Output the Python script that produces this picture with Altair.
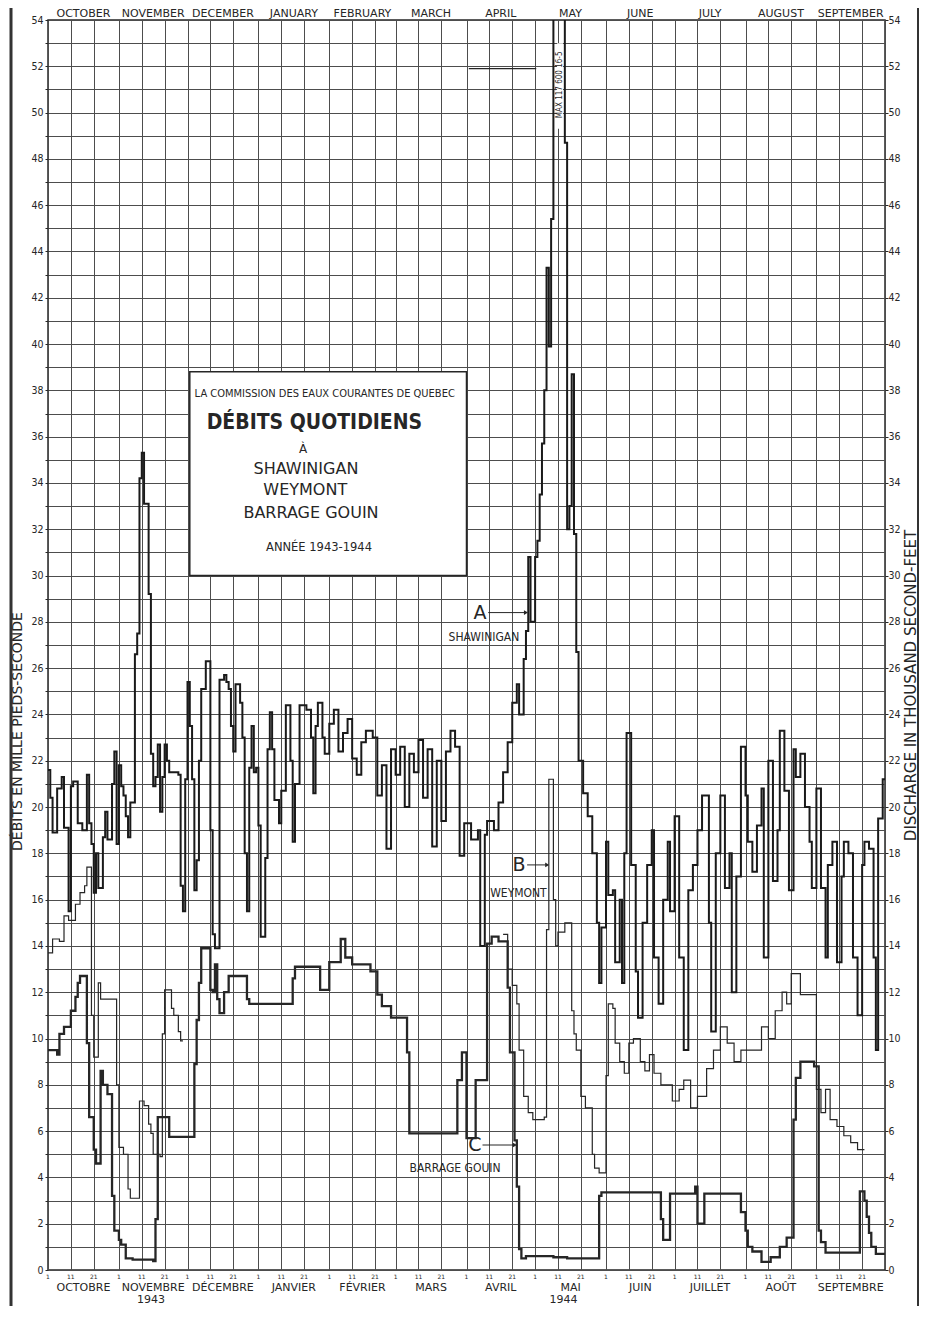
import altair as alt
import pandas as pd

INK = "#262626"
GRID = "#4d4d4d"
FONT = "DejaVu Sans"
FONT_C = "DejaVu Sans Condensed"

# ---------------- calendar (days counted from 1 Oct 1943) ----------------
MONTH_START = [0, 31, 61, 92, 123, 152, 183, 213, 244, 274, 305, 336, 366]
MONTHS_EN = ["OCTOBER", "NOVEMBER", "DECEMBER", "JANUARY", "FEBRUARY", "MARCH",
             "APRIL", "MAY", "JUNE", "JULY", "AUGUST", "SEPTEMBER"]
MONTHS_FR = ["OCTOBRE", "NOVEMBRE", "DÉCEMBRE", "JANVIER", "FÉVRIER", "MARS",
             "AVRIL", "MAI", "JUIN", "JUILLET", "AOÛT", "SEPTEMBRE"]
DAY_TICKS = ["1", "11", "21"]
Y_LABELS = list(range(0, 55, 2))

# ---------------- A : Shawinigan (thousand cfs, step changes) ----------------
A_DAY = [0, 1, 2, 4, 6, 7, 9, 10, 11, 13, 15, 17, 18, 19, 20, 21, 22, 24, 25, 26,
         28, 29, 30, 31, 32, 33, 34, 35, 36, 38, 39, 40, 41, 42, 44, 45, 46, 47, 48, 49,
         50, 51, 52, 53, 57, 58, 59, 60, 61, 62, 63, 64, 65, 66, 67, 69, 71, 72, 73, 75,
         77, 78, 79, 80, 81, 82, 84, 85, 86, 87, 88, 89, 90, 91, 92, 93, 95, 96, 97, 98,
         99, 101, 102, 104, 106, 107, 108, 110, 113, 115, 116, 117, 118, 120, 121, 123, 125, 127, 129, 131,
         133, 135, 137, 139, 142, 144, 146, 148, 150, 152, 154, 156, 158, 160, 162, 164, 166, 168, 170, 172,
         174, 176, 178, 180, 182, 185, 188, 189, 191, 192, 195, 197, 199, 201, 203, 205, 206, 208, 209, 210,
         211, 213, 214, 215, 216, 217, 218, 219, 220, 221, 226, 227, 228, 229, 230, 231, 232, 234, 236, 238,
         240, 241, 242, 244, 245, 247, 248, 250, 251, 252, 253, 255, 257, 258, 260, 262, 264, 265, 267, 269,
         271, 272, 274, 276, 278, 280, 282, 284, 286, 289, 290, 292, 294, 296, 298, 299, 301, 303, 305, 306,
         308, 310, 312, 313, 315, 317, 319, 320, 322, 324, 326, 327, 329, 331, 333, 334, 336, 338, 340, 341,
         343, 345, 347, 348, 350, 352, 354, 356, 357, 359, 361, 362, 363, 365, 366]
A_FLOW = [21.6, 20.4, 18.9, 20.8, 21.3, 19.1, 15.5, 20.9, 21.1, 19.3, 19.0, 21.4, 19.3, 18.4, 16.3, 18.0, 16.5, 18.7, 19.8, 18.6,
          21.0, 22.4, 18.4, 21.8, 20.9, 20.5, 19.6, 18.7, 20.2, 26.6, 27.5, 34.2, 35.3, 33.1, 29.2, 22.3, 20.9, 21.3, 22.7, 19.8,
          21.3, 22.7, 22.0, 21.5, 21.4, 16.6, 15.5, 21.2, 25.4, 23.5, 21.2, 16.4, 17.7, 22.0, 25.1, 26.3, 19.0, 14.5, 13.9, 25.5,
          25.7, 25.4, 25.1, 23.5, 22.4, 25.3, 24.5, 23.0, 18.0, 15.5, 21.7, 23.5, 21.5, 21.7, 19.2, 14.4, 17.8, 22.5, 24.1, 22.5,
          20.3, 19.3, 20.7, 24.4, 22.0, 18.5, 21.0, 24.4, 24.2, 23.0, 20.6, 23.5, 24.5, 23.0, 22.3, 23.6, 24.2, 22.4, 23.2, 23.8,
          22.1, 21.4, 22.8, 23.3, 23.0, 20.5, 21.8, 18.2, 22.5, 21.4, 22.6, 20.0, 22.3, 21.5, 22.9, 20.4, 22.5, 18.3, 22.0, 19.4,
          22.4, 23.3, 22.6, 17.9, 19.3, 18.6, 19.0, 14.0, 18.8, 19.4, 19.0, 20.2, 21.5, 22.8, 24.5, 25.3, 24.0, 26.4, 27.6, 30.8,
          28.0, 30.8, 31.5, 33.5, 35.7, 38.0, 43.3, 39.9, 45.4, 117.6, 48.7, 32.0, 33.0, 38.7, 31.8, 26.7, 22.0, 20.6, 19.6, 18.0,
          15.0, 12.4, 14.8, 18.5, 16.2, 16.4, 13.3, 16.0, 12.4, 18.0, 23.2, 17.5, 12.9, 10.9, 15.0, 17.5, 19.0, 13.5, 11.5, 16.0,
          18.5, 15.5, 19.6, 13.5, 9.5, 16.4, 17.5, 19.0, 20.5, 15.0, 10.3, 18.0, 20.5, 16.5, 18.0, 12.0, 17.0, 22.6, 20.5, 18.5,
          17.2, 19.2, 20.8, 13.5, 22.0, 16.8, 19.0, 23.3, 20.7, 16.4, 22.5, 21.3, 22.3, 20.0, 18.5, 16.5, 20.8, 16.5, 13.5, 17.5,
          18.5, 13.3, 17.0, 18.5, 18.0, 13.5, 11.0, 17.5, 18.5, 18.2, 13.5, 9.5, 19.5, 21.2, 21.2]

# ---------------- B : Weymont (two recorded stretches) ----------------
B_DAY = [0, 2, 5, 7, 9, 12, 14, 16, 17, 19, 20, 22, 23, 30, 31, 33, 35, 36, 40, 42,
         44, 45, 46, 49, 50, 51, 54, 55, 57, 58, 59,
         199, 201, 203, 205, 206, 208, 210, 212, 217, 218, 219, 221, 222, 223, 226, 229, 230, 231, 233,
         235, 238, 239, 241, 244, 245, 247, 248, 250, 252, 254, 256, 259, 261, 263, 265, 268, 273, 276, 278,
         281, 284, 288, 291, 294, 297, 300, 303, 312, 315, 318, 321, 323, 325, 329, 335, 336, 338, 340, 342,
         345, 348, 351, 354, 357]
B_FLOW = [13.7, 14.3, 14.2, 15.3, 15.1, 15.8, 16.3, 16.6, 17.4, 11.0, 9.2, 12.4, 11.7, 8.0, 5.3, 5.0, 3.5, 3.1, 7.3, 7.1,
          6.3, 5.9, 5.0, 4.9, 10.2, 12.1, 11.3, 11.0, 10.3, 9.9, 9.9,
          14.5, 13.0, 12.3, 11.5, 9.5, 7.5, 6.8, 6.5, 6.6, 14.7, 21.2, 16.0, 14.0, 14.6, 15.0, 11.2, 10.2, 9.5, 7.5,
          7.0, 5.0, 4.4, 4.2, 8.4, 11.5, 11.3, 9.8, 9.0, 8.5, 9.8, 10.0, 9.0, 8.6, 9.3, 8.5, 8.0, 7.3, 7.8, 8.2,
          7.0, 7.5, 8.7, 9.5, 10.5, 9.8, 9.0, 9.5, 10.5, 10.0, 11.2, 12.0, 11.5, 12.8, 11.9, 11.9, 7.8, 6.8, 7.8, 6.5,
          6.2, 5.8, 5.5, 5.2, 5.2]
B_SEG = [1] * 31 + [2] * 64

# ---------------- C : Barrage Gouin ----------------
C_DAY = [0, 4, 5, 7, 10, 12, 13, 14, 17, 18, 20, 21, 23, 24, 26, 28, 29, 31, 32, 34,
         37, 46, 47, 48, 53, 64, 65, 66, 67, 71, 72, 73, 74, 75, 77, 79, 87, 88, 107, 108,
         119, 123, 128, 130, 133, 141, 144, 146, 150, 157, 158, 179, 181, 183, 187, 192, 194, 197, 201, 202,
         204, 205, 206, 207, 209, 221, 227, 241, 242, 268, 269, 272, 283, 284, 287, 303, 305, 306, 308, 312,
         316, 320, 323, 326, 327, 329, 335, 337, 338, 340, 355, 357, 358, 359, 360, 362, 366]
C_FLOW = [9.5, 9.3, 10.2, 10.5, 11.2, 11.8, 12.4, 12.7, 9.8, 6.6, 5.2, 4.6, 8.6, 8.0, 7.6, 3.2, 1.7, 1.3, 1.1, 0.5,
          0.45, 0.38, 2.2, 6.6, 5.75, 8.9, 10.8, 12.4, 13.9, 12.1, 12.0, 13.2, 11.7, 11.1, 12.0, 12.7, 11.7, 11.5, 12.6, 13.1,
          12.1, 13.3, 14.3, 13.5, 13.2, 12.9, 11.9, 11.4, 10.9, 9.4, 5.9, 8.2, 9.4, 5.7, 8.2, 14.1, 14.4, 14.2, 12.2, 9.4,
          5.6, 3.6, 0.9, 0.5, 0.6, 0.55, 0.5, 3.2, 3.35, 2.2, 1.3, 3.3, 3.6, 2.0, 3.3, 2.5, 1.7, 1.0, 0.8, 0.35,
          0.55, 1.0, 1.4, 6.5, 8.3, 9.0, 8.8, 1.7, 1.2, 0.75, 3.4, 3.0, 2.3, 1.6, 1.0, 0.7, 0.7]

# ---------------- tables ----------------
dfA = pd.DataFrame({"day": A_DAY, "flow": A_FLOW})
dfB = pd.DataFrame({"seg": B_SEG, "day": B_DAY, "flow": B_FLOW})
dfC = pd.DataFrame({"day": C_DAY, "flow": C_FLOW})

grid_days = [s + k for s in MONTH_START[:-1] for k in (0, 10, 20)] + [MONTH_START[-1]]
ticks_df = pd.DataFrame({"day": grid_days[:-1], "lab": DAY_TICKS * 12})
months_df = pd.DataFrame({
    "day": [(a + b) / 2 for a, b in zip(MONTH_START[:-1], MONTH_START[1:])],
    "en": MONTHS_EN, "fr": MONTHS_FR})

W, H = 837, 1250
PAD_L, PAD_T, PAD_R, PAD_B = 40, 12, 34, 36
xs = alt.Scale(domain=[0, 366], nice=False, zero=False)
ys = alt.Scale(domain=[0, 54], nice=False, zero=False)


def X(axis=None, field="day:Q"):
    return alt.X(field, scale=xs, axis=axis)


def Y(axis=None, field="flow:Q"):
    return alt.Y(field, scale=ys, axis=axis)


x_axis = alt.Axis(values=grid_days, grid=True, gridColor=GRID, gridWidth=1, gridOpacity=1,
                  labels=False, ticks=False, domain=False, title=None)
left_axis = alt.Axis(values=list(range(0, 55)), grid=True, gridColor=GRID, gridWidth=1, gridOpacity=1,
                     domain=False, ticks=True, tickSize=3, tickColor=INK,
                     labelExpr="datum.value % 2 === 0 ? datum.label : ''",
                     labelFont=FONT_C, labelFontSize=10.5, labelColor=INK, labelPadding=2,
                     title="DÉBITS EN MILLE PIEDS-SECONDE", titleFont=FONT, titleFontSize=14,
                     titleFontWeight="normal", titleColor=INK, titleAngle=270,
                     titleX=-31, titleY=711, titleAlign="center", titleBaseline="middle")
right_axis = alt.Axis(orient="right", values=Y_LABELS, grid=False, domain=False,
                      ticks=True, tickSize=3, tickColor=INK,
                      labelFont=FONT_C, labelFontSize=10.5, labelColor=INK, labelPadding=0,
                      title="DISCHARGE IN THOUSAND SECOND-FEET", titleFont=FONT, titleFontSize=15,
                      titleFontWeight="normal", titleColor=INK, titleAngle=270,
                      titleX=25, titleY=665, titleAlign="center", titleBaseline="middle")

one = pd.DataFrame({"k": [0]})

# title box
box = alt.Chart(pd.DataFrame({"day": [62], "day2": [183], "flow": [30], "flow2": [38.8]})).mark_rect(
    fill="white", stroke=INK, strokeWidth=1.5).encode(
    x=X(), x2="day2:Q", y=Y(), y2="flow2:Q")


def label(text, day, flow, size, font=FONT, weight="normal", angle=0, align="center"):
    return alt.Chart(pd.DataFrame({"t": [text], "day": [day], "flow": [flow]})).mark_text(
        font=font, fontSize=size, fontWeight=weight, color=INK, angle=angle,
        align=align, baseline="middle").encode(x=X(), y=Y(), text="t:N")


texts = [
    label("LA COMMISSION DES EAUX COURANTES DE QUEBEC", 121, 37.85, 11, FONT_C),
    label("DÉBITS QUOTIDIENS", 116.5, 36.6, 21, FONT_C, "bold"),
    label("À", 111.5, 35.45, 12),
    label("SHAWINIGAN", 112.8, 34.6, 16),
    label("WEYMONT", 112.5, 33.7, 16),
    label("BARRAGE GOUIN", 115, 32.7, 16),
    label("ANNÉE 1943-1944", 118.5, 31.2, 11.5),
    label("A", 188.9, 28.4, 19),
    label("SHAWINIGAN", 190.6, 27.35, 12, FONT_C),
    label("B", 206, 17.5, 19),
    label("WEYMONT", 205.7, 16.3, 12, FONT_C),
    label("C", 186.7, 5.4, 19),
    label("BARRAGE GOUIN", 178, 4.4, 12, FONT_C),
]

# arrows of annotations
arrows_df = pd.DataFrame({"day": [192.5, 209.5, 190.0], "day2": [209.0, 218.3, 204.2],
                          "flow": [28.4, 17.5, 5.4]})
arrow_lines = alt.Chart(arrows_df).mark_rule(color=INK, strokeWidth=1).encode(
    x=X(), x2="day2:Q", y=Y())
arrow_heads = alt.Chart(arrows_df).mark_point(shape="triangle-right", filled=True, color=INK,
                                              size=22, opacity=1).encode(x=X(field="day2:Q"), y=Y())

# max note
max_rect = alt.Chart(pd.DataFrame({"day": [222.6], "day2": [225.2], "flow": [49.3], "flow2": [53.0]})).mark_rect(
    fill="white").encode(x=X(), x2="day2:Q", y=Y(), y2="flow2:Q")
max_text = label("MAX  117 600  16-5", 223.9, 51.2, 8, FONT_C, angle=270)
note_rule = alt.Chart(pd.DataFrame({"day": [184], "day2": [213.5], "flow": [51.9]})).mark_rule(
    color=INK, strokeWidth=1.2).encode(x=X(), x2="day2:Q", y=Y())

# series
lineC = alt.Chart(dfC).mark_line(interpolate="step-after", color=INK, strokeWidth=2.3, clip=True).encode(
    x=X(), y=Y())
lineB = alt.Chart(dfB).mark_line(interpolate="step-after", color=INK, strokeWidth=1.2, clip=True).encode(
    x=X(), y=Y(right_axis), detail="seg:N")
lineA = alt.Chart(dfA).mark_line(interpolate="step-after", color="#1a1a1a", strokeWidth=2.0, clip=True).encode(
    x=X(x_axis), y=Y(left_axis))

# calendar labels
top_months = alt.Chart(months_df).mark_text(font=FONT, fontSize=11, color=INK, baseline="middle").encode(
    x=X(), y=alt.value(-6), text="en:N")
bottom_months = alt.Chart(months_df).mark_text(font=FONT, fontSize=11, color=INK, baseline="middle").encode(
    x=X(), y=alt.value(H + 18), text="fr:N")
years = alt.Chart(pd.DataFrame({"day": [45, 225.4], "t": ["1943", "1944"]})).mark_text(
    font=FONT, fontSize=11, color=INK, baseline="bottom").encode(x=X(), y=alt.value(H + 35), text="t:N")
day_ticks = alt.Chart(ticks_df).mark_text(font=FONT, fontSize=6, color=INK, baseline="middle").encode(
    x=X(), y=alt.value(H + 7), text="lab:N")

# outer frame (left and right)
frame_l = alt.Chart(one).mark_rule(color="#333333", strokeWidth=3).encode(
    x=alt.value(-37), y=alt.value(-PAD_T), y2=alt.value(H + PAD_B))
frame_r = alt.Chart(one).mark_rule(color="#333333", strokeWidth=2).encode(
    x=alt.value(W + PAD_R - 1), y=alt.value(-PAD_T), y2=alt.value(H + PAD_B))

chart = alt.layer(
    lineA, box, *texts, arrow_lines, arrow_heads, note_rule, max_rect, max_text,
    lineC, lineB, day_ticks, top_months, bottom_months, years, frame_l, frame_r
).resolve_axis(x="independent", y="independent").properties(
    width=W, height=H, background="white",
    autosize=alt.AutoSizeParams(type="none"),
    padding={"left": PAD_L, "top": PAD_T, "right": PAD_R, "bottom": PAD_B}
).configure_view(stroke=INK, strokeWidth=1.5)

chart.save("out.html", embed_options={"renderer": "svg", "actions": False})
